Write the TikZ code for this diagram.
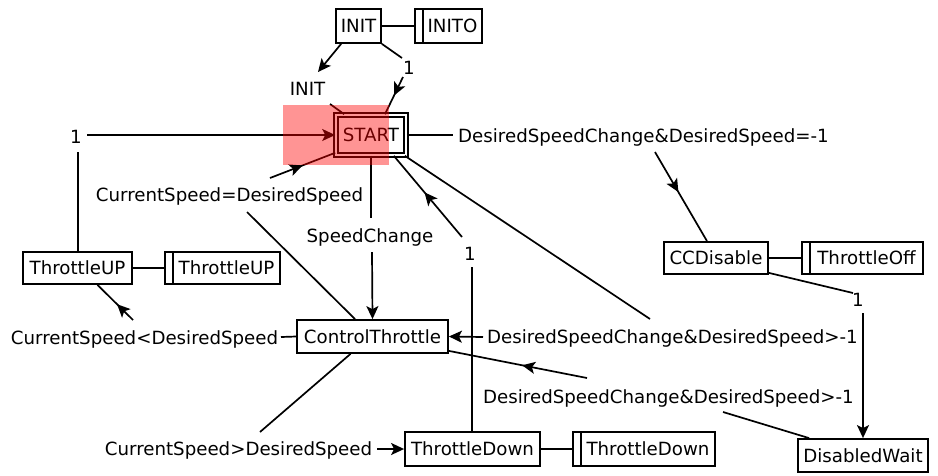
\documentclass[tikz,border=0pt]{standalone}
\usepackage{fontspec}
\setmainfont{DejaVu Sans}
\usetikzlibrary{arrows.meta,decorations.markings}
\begin{document}
\begin{tikzpicture}[x=1pt,y=-1pt,
  every node/.style={font=\fontsize{18.2}{20}\selectfont},
  box/.style={draw, line width=1.8pt, inner sep=0pt},
  act/.style={box, path picture={\draw[line width=1.8pt] ([xshift=8pt]path picture bounding box.north west) -- ([xshift=8pt]path picture bounding box.south west);}},
  lbl/.style={inner sep=0pt},
  ln/.style={line width=1.7pt},
  tip/.style={ln, -{Stealth[length=13pt,width=12pt,inset=3pt]}},
  midarr/.style={ln, postaction={decorate}, decoration={markings, mark=at position #1 with {\arrow{Stealth[length=13pt,width=12pt,inset=3pt]}}}}
]
\useasboundingbox (0,0) rectangle (938,475);

% state boxes
\node[box, minimum width=45pt, minimum height=34pt] (init) at (358.5,26) {INIT};
\node[act, minimum width=67pt, minimum height=34pt] (inito) at (448.5,26) {\hspace{8pt}INITO};
\node[draw, double, double distance=2pt, line width=1.6pt, inner sep=0pt, minimum width=70pt, minimum height=40pt] (start) at (371,135) {START};
\node[box, minimum width=104pt, minimum height=32pt] (ccd) at (716,258) {CCDisable};
\node[act, minimum width=121pt, minimum height=32pt] (toff) at (862.5,258) {\hspace{8pt}ThrottleOff};
\node[box, minimum width=109pt, minimum height=32pt] (tup) at (77.5,268) {ThrottleUP};
\node[act, minimum width=115pt, minimum height=32pt] (tup2) at (222.5,268) {\hspace{8pt}ThrottleUP};
\node[box, minimum width=151pt, minimum height=33pt] (ctl) at (372.5,336.5) {ControlThrottle};
\node[box, minimum width=135pt, minimum height=34pt] (tdn) at (472.5,449) {ThrottleDown};
\node[act, minimum width=142pt, minimum height=34pt] (tdn2) at (644,449) {\hspace{8pt}ThrottleDown};
\node[box, minimum width=130pt, minimum height=33pt] (dw) at (863,455.5) {DisabledWait};

% labels
\node[lbl] (lInit) at (307.5,88.5) {INIT};
\node[lbl] (l1a) at (409,68) {1};
\node[lbl] (l1b) at (76,137) {1};
\node[lbl] (lCSeq) at (229.5,196) {CurrentSpeed=DesiredSpeed};
\node[lbl] (lSC) at (370,237) {SpeedChange};
\node[lbl] (l1c) at (470,254) {1};
\node[lbl] (lDSCeq) at (643.5,137.5) {DesiredSpeedChange\&DesiredSpeed=-1};
\node[lbl] (l1d) at (858,300) {1};
\node[lbl] (lDSCa) at (672.5,338) {DesiredSpeedChange\&DesiredSpeed>-1};
\node[lbl] (lDSCb) at (668.5,398) {DesiredSpeedChange\&DesiredSpeed>-1};
\node[lbl] (lCSlt) at (144.5,339) {CurrentSpeed<DesiredSpeed};
\node[lbl] (lCSgt) at (238.5,450) {CurrentSpeed>DesiredSpeed};

% free ends of connector segments
\coordinate (c1) at (318,72);
\coordinate (c2) at (330,104);
\coordinate (c3) at (402,58);
\coordinate (c4) at (403,77);
\coordinate (c5) at (247,212);
\coordinate (c6) at (270,178);
\coordinate (c7) at (78,152);
\coordinate (c8) at (87,135);
\coordinate (c9) at (371,218);
\coordinate (c10) at (372,252);
\coordinate (c11) at (472,267);
\coordinate (c12) at (462,237);
\coordinate (c13) at (453,135);
\coordinate (c14) at (655,152);
\coordinate (c15) at (853,293);
\coordinate (c16) at (863,313);
\coordinate (c17) at (650,319);
\coordinate (c18) at (483,337);
\coordinate (c19) at (723,412);
\coordinate (c20) at (587,378);
\coordinate (c21) at (281,337);
\coordinate (c22) at (133,320);
\coordinate (c23) at (260,432);
\coordinate (c24) at (377,449);

% action links
\draw[ln] (init.east) -- (inito.west);
\draw[ln] (ccd.east) -- (toff.west);
\draw[ln] (tup.east) -- (tup2.west);
\draw[ln] (tdn.east) -- (tdn2.west);

% INIT -> START (INIT)
\draw[tip] ([xshift=6pt]init.south west) -- (c1);
\draw[ln] (c2) -- ([xshift=9pt]start.north west);
% INIT -> START (1)
\draw[ln] (init.south east) -- (c3);
\draw[midarr=0.5] (c4) -- ([xshift=14pt]start.north);
% ControlThrottle -> START (CurrentSpeed=DesiredSpeed)
\draw[ln] ([xshift=-17.5pt]ctl.north) -- (c5);
\draw[midarr=0.5] (c6) -- ([yshift=3pt]start.south west);
% ThrottleUP -> START (1)
\draw[ln] ([xshift=0.5pt]tup.north) -- (c7);
\draw[tip] (c8) -- (start.west);
% START -> ControlThrottle (SpeedChange)
\draw[ln] (start.south) -- (c9);
\draw[tip] (c10) -- (ctl.north);
% ThrottleDown -> START (1)
\draw[ln] ([xshift=-0.5pt]tdn.north) -- (c11);
\draw[midarr=0.55] (c12) -- ([xshift=-13pt]start.south east);
% START -> CCDisable
\draw[ln] (start.east) -- (c13);
\draw[midarr=0.45] (c14) -- ([xshift=-9pt]ccd.north);
% CCDisable -> DisabledWait
\draw[ln] ([yshift=2pt]ccd.south east) -- (c15);
\draw[tip] (c16) -- (dw.north);
% START -> ControlThrottle (>-1)
\draw[ln] ([xshift=-2pt]start.south east) -- (c17);
\draw[tip] (c18) -- (ctl.east);
% DisabledWait -> ControlThrottle (>-1)
\draw[ln] ([xshift=12pt]dw.north west) -- (c19);
\draw[midarr=0.47] (c20) -- ([yshift=3pt]ctl.south east);
% ControlThrottle -> ThrottleUP
\draw[ln] (ctl.west) -- (c21);
\draw[midarr=0.45] (c22) -- ([xshift=20pt]tup.south);
% ControlThrottle -> ThrottleDown
\draw[ln] ([xshift=-22pt]ctl.south) -- (c23);
\draw[tip] (c24) -- (tdn.west);

% highlight
\fill[red, fill opacity=0.42] (283,105) rectangle (389,165);
\end{tikzpicture}
\end{document}
